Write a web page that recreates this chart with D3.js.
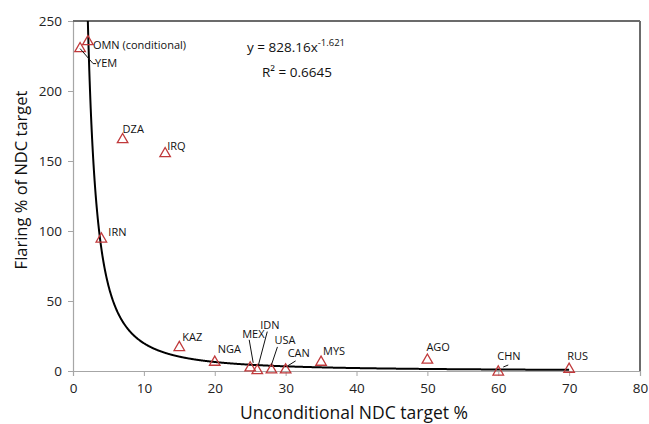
<!DOCTYPE html>
<html><head><meta charset="utf-8">
<script src="https://cdn.jsdelivr.net/npm/d3@7"></script>
<style>body{margin:0;background:#fff}svg{display:block}text{font-family:"Open Sans","Noto Sans",sans-serif;}</style>
</head><body><svg id="c" width="649" height="424"></svg>
<script>
const countries = ["OMN (conditional)","YEM","DZA","IRQ","IRN","KAZ","NGA","MEX","IDN","USA","CAN","MYS","AGO","CHN","RUS"];
const ndcTarget = [2.1,1,7,13,4,15,20,25,26,28,30,35,50,60,70];
const flaringPct = [236,231,166,156,95,17.5,7,3,1,1.5,1.5,7,8.5,0,2];
const xTicks = [0,10,20,30,40,50,60,70,80];
const yTicks = [0,50,100,150,200,250];
const fitA = 828.16, fitB = -1.621;

// label placement offsets (px) and optional leader line endpoints
const labelDx = [5,15,0,2,7,3,3,-8,3,3,2,2,-1,-1,-2];
const labelDy = [5,16,-9,-6,-5,-8,-11,-32,-44,-28,-15,-9,-11,-14,-11];
const leader = [null,[0,1,13,16],null,null,null,null,null,[3,-4,-1,-27],[1,-4,10,-38],[0,-4,6,-22],[2,-3,10,-8],null,null,[5,-4,10,-6],null];

const svg = d3.select("#c");
const m = {l:73, r:640, t:21, b:371};
const x = d3.scaleLinear().domain([0,80]).range([m.l,m.r]);
const y = d3.scaleLinear().domain([0,250]).range([m.b,m.t]);

// axes
const xa = svg.append("g").attr("transform",`translate(0,${m.b})`)
  .call(d3.axisBottom(x).tickValues(xTicks).tickSize(5).tickPadding(7));
const ya = svg.append("g").attr("transform",`translate(${m.l},0)`)
  .call(d3.axisLeft(y).tickValues(yTicks).tickSize(5).tickPadding(6));
[xa,ya].forEach(g=>{
  g.select(".domain").attr("stroke","#a6a6a6").attr("stroke-width",1.2);
  g.selectAll(".tick line").attr("stroke","#a6a6a6");
  g.selectAll(".tick text").attr("fill","#222").style("font-size","13.5px").style("font-family","'Open Sans',sans-serif");
});
// top and right borders
svg.append("line").attr("x1",m.l).attr("x2",m.r).attr("y1",m.t).attr("y2",m.t).attr("stroke","#6b6b6b").attr("stroke-width",2);
svg.append("line").attr("x1",m.r).attr("x2",m.r).attr("y1",m.t).attr("y2",m.b).attr("stroke","#6b6b6b").attr("stroke-width",2);

// clip
svg.append("clipPath").attr("id","pc").append("rect").attr("x",m.l).attr("y",m.t).attr("width",m.r-m.l).attr("height",m.b-m.t);

// fit curve
const xs = d3.range(1.9,70.001,0.05);
const line = d3.line().x(d=>x(d)).y(d=>y(fitA*Math.pow(d,fitB)));
svg.append("path").attr("d",line(xs)).attr("fill","none").attr("stroke","#000").attr("stroke-width",2).attr("clip-path","url(#pc)");

// points
const data = countries.map((c,i)=>({c, x:ndcTarget[i], y:flaringPct[i], i}));
const tri = d3.symbol().type(d3.symbolTriangle).size(48);
svg.selectAll(".pt").data(data).join("path")
  .attr("transform",d=>`translate(${x(d.x)},${y(d.y)+1})`)
  .attr("d",tri).attr("fill","none").attr("stroke","#c0393b").attr("stroke-width",1.3);

// leaders
data.forEach(d=>{
  const L = leader[d.i]; if(!L) return;
  const px=x(d.x), py=y(d.y);
  svg.append("line").attr("x1",px+L[0]).attr("y1",py+L[1]).attr("x2",px+L[2]).attr("y2",py+L[3]).attr("stroke","#111").attr("stroke-width",1);
  if(d.i===1){
    svg.append("line").attr("x1",px+L[2]).attr("y1",py+L[3]).attr("x2",px+L[2]+3).attr("y2",py+L[3]).attr("stroke","#111").attr("stroke-width",1);
  }
});
// labels
svg.selectAll(".lb").data(data).join("text")
  .attr("x",d=>x(d.x)+labelDx[d.i]).attr("y",d=>y(d.y)+labelDy[d.i])
  .attr("dominant-baseline","middle").style("font-size","11px").attr("fill","#111")
  .text(d=>d.c);

// equation
const eq = svg.append("text").attr("x",247).attr("y",52).style("font-size","13.5px").attr("fill","#111");
eq.append("tspan").text("y = 828.16x");
eq.append("tspan").attr("dy",-6).style("font-size","9.5px").text("-1.621");
svg.append("text").attr("x",262).attr("y",77).style("font-size","13.5px").attr("fill","#111").text("R² = 0.6645");

// axis titles
svg.append("text").attr("x",354).attr("y",419).attr("text-anchor","middle").style("font-size","17.5px").attr("fill","#111").text("Unconditional NDC target %");
svg.append("text").attr("transform","translate(27,180) rotate(-90)").attr("text-anchor","middle").style("font-size","16.5px").attr("fill","#111").text("Flaring % of NDC target");
</script></body></html>
